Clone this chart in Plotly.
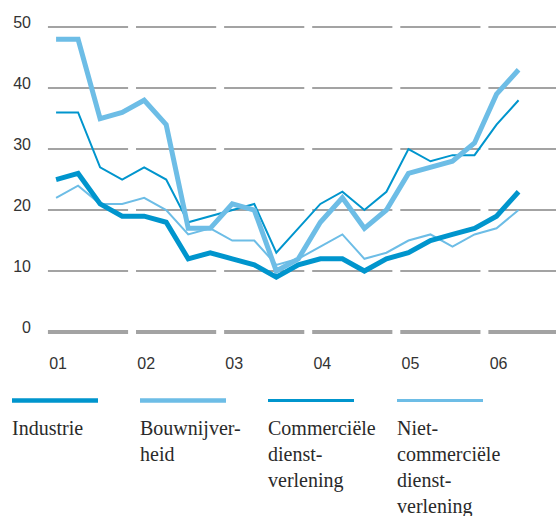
import plotly.graph_objects as go

# Quarterly data 2001Q1 .. 2006Q2
quarters = list(range(22))
industrie = [25, 26, 21, 19, 19, 18, 12, 13, 12, 11, 9, 11, 12, 12, 10, 12, 13, 15, 16, 17, 19, 23]
bouw = [48, 48, 35, 36, 38, 34, 17, 17, 21, 20, 10, 12, 18, 22, 17, 20, 26, 27, 28, 31, 39, 43]
commercieel = [36, 36, 27, 25, 27, 25, 18, 19, 20, 21, 13, 17, 21, 23, 20, 23, 30, 28, 29, 29, 34, 38]
niet_commercieel = [22, 24, 21, 21, 22, 20, 16, 17, 15, 15, 11, 12, 14, 16, 12, 13, 15, 16, 14, 16, 17, 20]

year_labels = ["01", "02", "03", "04", "05", "06"]
y_ticks = [0, 10, 20, 30, 40, 50]
legend_names = ["Industrie", "Bouwnijver-<br>heid", "Commerciële<br>dienst-<br>verlening",
                "Niet-<br>commerciële<br>dienst-<br>verlening"]

DARK = "#0095CD"
LIGHT = "#6DBDE6"
GRID = "#A3A3A3"
SERIF = "Liberation Serif"

L, R, T, B = 40, 0, 10, 171
W, H = 556, 516
PW = W - L - R
PH = H - T - B

fig = go.Figure()

series = [
    (industrie, DARK, 5),
    (bouw, LIGHT, 5),
    (commercieel, DARK, 2),
    (niet_commercieel, LIGHT, 2),
]
# draw order: thin light, thin dark, thick light, thick dark
order = [3, 2, 1, 0]
for i in order:
    vals, col, w = series[i]
    fig.add_trace(go.Scatter(x=quarters, y=vals, mode="lines",
                             line=dict(color=col, width=w), showlegend=False,
                             hoverinfo="skip"))

# segmented gridlines per year
shapes = []
for k in range(len(year_labels)):
    x0 = 4 * k - 0.37
    x1 = 4 * k + 3.27 if k < len(year_labels) - 1 else 23
    for v in y_ticks:
        shapes.append(dict(type="line", xref="x", yref="y", x0=x0, x1=x1, y0=v, y1=v,
                           line=dict(color=GRID, width=4 if v == 0 else 2), layer="below"))

# legend samples
def px_x(X):
    return (X - L) / PW

def px_y(Y):
    return (H - B - Y) / PH

leg_x = [12, 140, 268, 397]
leg_w = [4.5, 4.5, 3, 3]
leg_col = [DARK, LIGHT, DARK, LIGHT]
annotations = []
for i in range(4):
    shapes.append(dict(type="line", xref="paper", yref="paper",
                       x0=px_x(leg_x[i]), x1=px_x(leg_x[i] + 86),
                       y0=px_y(400.5), y1=px_y(400.5),
                       line=dict(color=leg_col[i], width=leg_w[i])))
    annotations.append(dict(xref="paper", yref="paper", x=px_x(leg_x[i] - 2), y=px_y(415),
                            xanchor="left", yanchor="top", align="left", showarrow=False,
                            text=legend_names[i],
                            font=dict(family=SERIF, size=20, color="#2a2a2a")))

fig.update_layout(
    width=W, height=H,
    margin=dict(l=L, r=R, t=T, b=B, autoexpand=False),
    plot_bgcolor="white", paper_bgcolor="white",
    shapes=shapes, annotations=annotations,
    xaxis=dict(range=[-0.73, 22.7], showgrid=False, zeroline=False, showline=False,
               tickvals=[4 * k + 0.09 for k in range(len(year_labels))], ticktext=year_labels,
               ticks="", ticklabelstandoff=7, automargin=False,
               tickfont=dict(family="Liberation Sans", size=16, color="#333333")),
    yaxis=dict(range=[-2.13, 52.8], showgrid=False, zeroline=False, showline=False,
               tickvals=y_ticks, ticks="", ticklabelshift=-5, ticklabelstandoff=8, automargin=False,
               tickfont=dict(family="Liberation Sans", size=16, color="#333333")),
)

fig.write_html("out.html", post_script="document.body.style.margin='0px';",
               config={"displayModeBar": False})
